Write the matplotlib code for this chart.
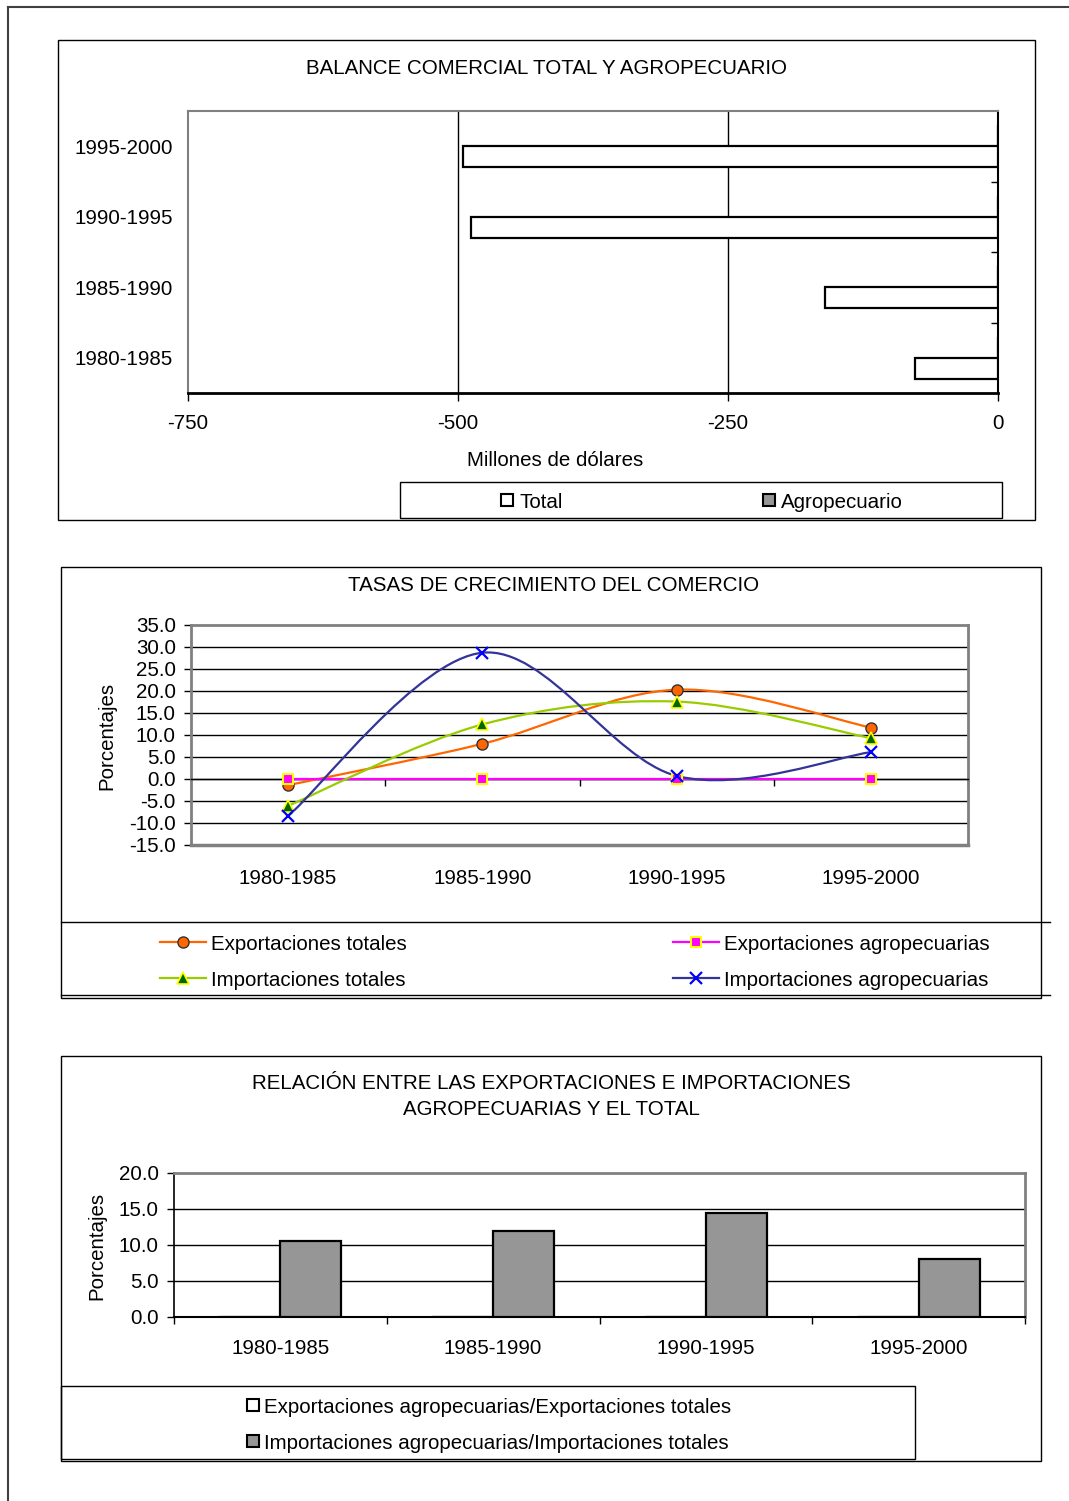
import numpy as np
import matplotlib
matplotlib.use("Agg")
import matplotlib.pyplot as plt
from matplotlib.patches import Rectangle, PathPatch
from matplotlib.path import Path
from matplotlib.lines import Line2D
from matplotlib.ticker import FormatStrFormatter

plt.rcParams["font.family"] = ["Liberation Sans", "DejaVu Sans"]
plt.rcParams["font.size"] = 14.8

# ---- data -------------------------------------------------------------
periods = ["1980-1985", "1985-1990", "1990-1995", "1995-2000"]

balance_total = [-77, -160, -488, -495]
balance_agro = [0, 0, 0, 0]

exp_totales = [-1.4, 8.0, 20.3, 11.7]
exp_agro = [0.0, 0.0, 0.0, 0.0]
imp_totales = [-6.1, 12.4, 17.6, 9.3]
imp_agro = [-8.4, 28.7, 0.7, 6.1]

ratio_exp = [0.0, 0.0, 0.0, 0.0]
ratio_imp = [10.6, 12.0, 14.4, 8.1]

# ---- figure helpers (pixel coordinates, origin top-left) ---------------
W, H = 1069, 1501
fig = plt.figure(figsize=(W / 100, H / 100), dpi=100)
GRAY = "#808080"
BARGRAY = "#969696"


def axes_px(x0, y0, x1, y1):
    return fig.add_axes([x0 / W, 1 - y1 / H, (x1 - x0) / W, (y1 - y0) / H])


def box_px(x0, y0, x1, y1, lw=1.0, color="black"):
    fig.add_artist(Rectangle((x0 / W, 1 - y1 / H), (x1 - x0) / W, (y1 - y0) / H,
                             transform=fig.transFigure, fill=False,
                             edgecolor=color, linewidth=lw))


def line_px(xs, ys, **kw):
    fig.add_artist(Line2D([x / W for x in xs], [1 - y / H for y in ys],
                          transform=fig.transFigure, **kw))


def text_px(x, y, s, **kw):
    # small downward nudge so the visual centre of the glyphs sits on y
    fig.text(x / W, 1 - (y + 2.5) / H, s, **kw)


def smooth_path(xs, ys):
    """Catmull-Rom style cubic Bezier through the points."""
    pts = np.column_stack([xs, ys]).astype(float)
    n = len(pts)
    verts = [pts[0]]
    codes = [Path.MOVETO]
    for i in range(n - 1):
        p0 = pts[i - 1] if i > 0 else pts[i]
        p1 = pts[i]
        p2 = pts[i + 1]
        p3 = pts[i + 2] if i + 2 < n else pts[i + 1]
        c1 = p1 + (p2 - p0) / 6.0
        c2 = p2 - (p3 - p1) / 6.0
        verts += [c1, c2, p2]
        codes += [Path.CURVE4] * 3
    return Path(verts, codes)


# ---- outer page frame --------------------------------------------------
line_px([8, 1069], [7, 7], color="#404040", lw=1.5)
line_px([8, 8], [7, 1501], color="#404040", lw=1.5)

# =======================================================================
# Chart 1: BALANCE COMERCIAL TOTAL Y AGROPECUARIO
# =======================================================================
box_px(58, 40, 1035, 520)
text_px(547, 66, "BALANCE COMERCIAL TOTAL Y AGROPECUARIO", ha="center", va="center")

ax1 = axes_px(188, 111, 998, 393)
ypos = np.arange(len(periods))
bars_total = ax1.barh(ypos - 0.15, balance_total, height=0.3, color="white",
                      edgecolor="black", linewidth=1.6, zorder=3)
bars_agro = ax1.barh(ypos + 0.15, balance_agro, height=0.3, color=BARGRAY,
                     edgecolor="black", linewidth=1.6, zorder=3)
ax1.set_xlim(-750, 0)
ax1.set_ylim(-0.5, 3.5)
ax1.set_xticks([-750, -500, -250, 0], ["-750", "-500", "-250", "0"])
ax1.tick_params(axis="x", direction="out", length=6, width=1, pad=9)
ax1.grid(axis="x", color="black", linewidth=1)
gl = ax1.get_xgridlines()
gl[0].set_visible(False)
gl[-1].set_visible(False)
ax1.set_axisbelow(True)
ax1.set_yticks(ypos, periods)
ax1.tick_params(axis="y", which="major", left=False, right=False, length=0, pad=11)
ax1.set_yticks([0.5, 1.5, 2.5], minor=True)
ax1.tick_params(axis="y", which="minor", left=False, right=True, direction="in",
                length=5, width=1)
for s in ("top", "left"):
    ax1.spines[s].set_color(GRAY)
    ax1.spines[s].set_linewidth(1.5)
ax1.spines["bottom"].set_linewidth(2)
ax1.spines["right"].set_linewidth(1.5)
text_px(555, 458, "Millones de dólares", ha="center", va="center")

# legend
box_px(400, 482, 1002, 518)
for (sx, label, bar) in ((507, "Total", bars_total), (769, "Agropecuario", bars_agro)):
    fig.add_artist(Rectangle(((sx - 6) / W, 1 - 506 / H), 12 / W, 12 / H,
                             transform=fig.transFigure,
                             facecolor=bar.patches[0].get_facecolor(),
                             edgecolor="black", linewidth=1.5))
    text_px(sx + 12, 500, label, ha="left", va="center")

# =======================================================================
# Chart 2: TASAS DE CRECIMIENTO DEL COMERCIO
# =======================================================================
box_px(61, 567, 1041, 998)
line_px([61, 1050], [922, 922], color="black", lw=1)
line_px([61, 1050], [995, 995], color="black", lw=1)
text_px(554, 583, "TASAS DE CRECIMIENTO DEL COMERCIO", ha="center", va="center")

ax2 = axes_px(191, 625, 968, 845)
xpos = np.arange(len(periods))
series2 = [
    (exp_totales, "Exportaciones totales",
     dict(color="#FF6600", marker="o", mfc="#FF6600", mec="#333333", ms=8, mew=1)),
    (exp_agro, "Exportaciones agropecuarias",
     dict(color="#FF00FF", marker="s", mfc="#FF00FF", mec="#FFFF00", ms=7, mew=1.5)),
    (imp_totales, "Importaciones totales",
     dict(color="#99CC00", marker="^", mfc="#006600", mec="#FFFF00", ms=8, mew=1.2)),
    (imp_agro, "Importaciones agropecuarias",
     dict(color="#333399", marker="x", mfc="#0000FF", mec="#0000FF", ms=9, mew=1.6)),
]
handles2 = []
for vals, label, st in series2:
    ax2.add_patch(PathPatch(smooth_path(xpos, vals), fill=False,
                            edgecolor=st["color"], linewidth=1.6, zorder=3))
    ax2.plot(xpos, vals, linestyle="none", marker=st["marker"], mfc=st["mfc"],
             mec=st["mec"], ms=st["ms"], mew=st["mew"], zorder=4)
    handles2.append((label, st))
ax2.set_xlim(-0.5, 3.5)
ax2.set_ylim(-15, 35)
ax2.set_yticks(np.arange(-15, 36, 5))
ax2.yaxis.set_major_formatter(FormatStrFormatter("%.1f"))
ax2.tick_params(axis="y", direction="out", length=5, width=1, pad=6)
ax2.grid(axis="y", color="black", linewidth=1)
ygl = ax2.get_ygridlines()
ygl[0].set_visible(False)
ygl[-1].set_visible(False)
ax2.set_axisbelow(True)
# category axis crosses at zero
ax2.spines["bottom"].set_position(("data", 0))
ax2.spines["bottom"].set_color("black")
ax2.spines["bottom"].set_linewidth(1)
ax2.set_xticks(xpos, periods)
ax2.tick_params(axis="x", which="major", length=0, pad=65)
ax2.set_xticks([0.5, 1.5, 2.5, 3.5], minor=True)
ax2.tick_params(axis="x", which="minor", direction="out", length=5, width=1)
for s in ("top", "left", "right"):
    ax2.spines[s].set_color(GRAY)
    ax2.spines[s].set_linewidth(2)
ax2.add_artist(Line2D([0, 1], [0, 0], transform=ax2.transAxes, color=GRAY,
                      lw=2.5, clip_on=False))
text_px(107, 733, "Porcentajes", rotation=90, ha="center", va="center")

# legend
leg_pos = [(160, 942), (673, 942), (160, 978), (673, 978)]
for (hx, hy), (label, st) in zip(leg_pos, handles2):
    fig.add_artist(Line2D([hx / W, (hx + 23) / W, (hx + 46) / W],
                          [1 - hy / H] * 3, transform=fig.transFigure,
                          color=st["color"], lw=1.6, marker=st["marker"],
                          markevery=[1], mfc=st["mfc"], mec=st["mec"],
                          ms=st["ms"], mew=st["mew"]))
    text_px(hx + 51, hy, label, ha="left", va="center")

# =======================================================================
# Chart 3: RELACIÓN ENTRE LAS EXPORTACIONES E IMPORTACIONES ...
# =======================================================================
box_px(61, 1056, 1041, 1461)
box_px(61, 1386, 915, 1459)
text_px(551, 1081, "RELACIÓN ENTRE LAS EXPORTACIONES E IMPORTACIONES",
        ha="center", va="center")
text_px(551, 1107, "AGROPECUARIAS Y EL TOTAL", ha="center", va="center")

ax3 = axes_px(174, 1173, 1025, 1317)
bars_rexp = ax3.bar(xpos - 0.1435, ratio_exp, width=0.287, color="white",
                    edgecolor="black", linewidth=1.6, zorder=3)
bars_rimp = ax3.bar(xpos + 0.1435, ratio_imp, width=0.287, color=BARGRAY,
                    edgecolor="black", linewidth=1.6, zorder=3)
ax3.set_xlim(-0.5, 3.5)
ax3.set_ylim(0, 20)
ax3.set_yticks(np.arange(0, 21, 5))
ax3.yaxis.set_major_formatter(FormatStrFormatter("%.1f"))
ax3.tick_params(axis="y", direction="out", length=5, width=1, pad=6)
ax3.grid(axis="y", color="black", linewidth=1)
ygl3 = ax3.get_ygridlines()
ygl3[0].set_visible(False)
ygl3[-1].set_visible(False)
ax3.set_axisbelow(True)
ax3.set_xticks(xpos, periods)
ax3.tick_params(axis="x", which="major", length=0, pad=16)
ax3.set_xticks([-0.5, 0.5, 1.5, 2.5, 3.5], minor=True)
ax3.tick_params(axis="x", which="minor", direction="out", length=5, width=1)
for s in ("top", "right"):
    ax3.spines[s].set_color(GRAY)
    ax3.spines[s].set_linewidth(2)
ax3.spines["left"].set_linewidth(1.2)
ax3.spines["bottom"].set_linewidth(1.5)
text_px(97, 1243, "Porcentajes", rotation=90, ha="center", va="center")

# legend
for (ly, label, bar) in ((1405, "Exportaciones agropecuarias/Exportaciones totales", bars_rexp),
                         (1441, "Importaciones agropecuarias/Importaciones totales", bars_rimp)):
    fig.add_artist(Rectangle((247 / W, 1 - (ly + 6) / H), 12 / W, 12 / H,
                             transform=fig.transFigure,
                             facecolor=bar.patches[0].get_facecolor(),
                             edgecolor="black", linewidth=1.5))
    text_px(264, ly, label, ha="left", va="center")

fig.savefig("out.png", dpi=100)
